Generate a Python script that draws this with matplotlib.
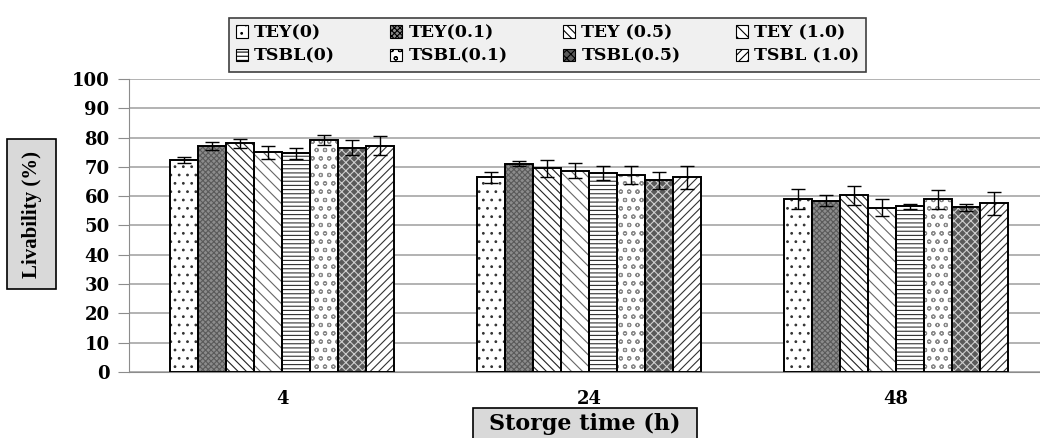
import numpy as np
import matplotlib.pyplot as plt
from matplotlib.patches import Rectangle

plt.rcParams['font.family'] = ['DejaVu Serif']
plt.rcParams['font.weight'] = 'bold'
plt.rcParams['hatch.linewidth'] = 0.8

categories = ['4', '24', '48']
series = ['TEY(0)', 'TEY(0.1)', 'TEY (0.5)', 'TEY (1.0)',
          'TSBL(0)', 'TSBL(0.1)', 'TSBL(0.5)', 'TSBL (1.0)']

# livability (%) per series, one value per storage time (4, 24, 48 h)
tey_0 = [72.4, 66.4, 59.0]
tey_01 = [77.1, 71.1, 58.4]
tey_05 = [78.0, 69.5, 60.3]
tey_10 = [75.0, 68.7, 56.1]
tsbl_0 = [74.6, 67.9, 56.5]
tsbl_01 = [79.2, 67.2, 59.0]
tsbl_05 = [76.5, 65.4, 56.3]
tsbl_10 = [77.3, 66.4, 57.6]

tey_0_err = [1.1, 1.9, 3.5]
tey_01_err = [1.3, 0.9, 1.9]
tey_05_err = [1.6, 2.8, 3.2]
tey_10_err = [2.2, 2.6, 2.8]
tsbl_0_err = [1.9, 2.5, 0.7]
tsbl_01_err = [1.8, 3.2, 3.2]
tsbl_05_err = [2.6, 3.0, 1.2]
tsbl_10_err = [3.1, 3.9, 3.9]

values = [tey_0, tey_01, tey_05, tey_10, tsbl_0, tsbl_01, tsbl_05, tsbl_10]
errors = [tey_0_err, tey_01_err, tey_05_err, tey_10_err,
          tsbl_0_err, tsbl_01_err, tsbl_05_err, tsbl_10_err]

# (face colour, hatch, hatch colour)
styles = [
    ('white', '..', '#333333'),
    ('#8c8c8c', 'xxxxxx', '#5a5a5a'),
    ('white', '\\\\\\\\', '#222222'),
    ('white', '\\\\\\', '#666666'),
    ('white', '----', '#333333'),
    ('white', 'oo', '#8a8a8a'),
    ('#5a5a5a', 'xxxx', '#cfcfcf'),
    ('white', '////', '#333333'),
]

W, H = 1040, 438
fig = plt.figure(figsize=(W / 100, H / 100), dpi=100)
ax = fig.add_axes([129 / W, 66 / H, 920.5 / W, 293 / H])


def px_box(x0, y0, x1, y1):
    # grey label box given in pixel coords measured from the top-left
    fig.patches.append(Rectangle((x0 / W, 1 - y1 / H), (x1 - x0) / W,
                                 (y1 - y0) / H, transform=fig.transFigure,
                                 facecolor='#d9d9d9', edgecolor='black',
                                 linewidth=1.2, zorder=0))


x = np.arange(len(categories))
width = 0.0912
handles = []
for i, (vals, errs, (fc, hatch, hc)) in enumerate(zip(values, errors, styles)):
    pos = x + (i - 3.5) * width
    # hatch fill first, then a plain black outline on top
    ax.bar(pos, vals, width, color=fc, hatch=hatch, edgecolor=hc,
           linewidth=0, zorder=2)
    ax.bar(pos, vals, width, facecolor='none', edgecolor='black',
           linewidth=1.4, zorder=3)
    ax.errorbar(pos, vals, yerr=errs, fmt='none', ecolor='black',
                elinewidth=1, capsize=5, capthick=1, zorder=4)
    h = Rectangle((0, 0), 1, 1, facecolor=fc, hatch=hatch,
                  edgecolor='black', linewidth=0.8)
    handles.append(h)

ax.set_ylim(0, 100)
ax.set_xlim(-0.5, 2.5)
ax.set_yticks(np.arange(0, 101, 10))
ax.set_xticks(x)
ax.set_xticklabels(categories)
ax.yaxis.grid(True, color='#a6a6a6', linewidth=1.2)
ax.set_axisbelow(True)
for s in ['top', 'right']:
    ax.spines[s].set_visible(False)
ax.spines['left'].set_color('#8c8c8c')
ax.spines['bottom'].set_color('#8c8c8c')
ax.tick_params(axis='y', length=8, color='#8c8c8c', labelsize=13, pad=6)
ax.tick_params(axis='x', length=0, labelsize=13, pad=13)
for lbl in ax.get_xticklabels() + ax.get_yticklabels():
    lbl.set_fontweight('bold')

px_box(7, 139, 56, 289)
fig.text(31.5 / W, 1 - 214 / H, 'Livability (%)', rotation=90,
         ha='center', va='center', fontsize=15, fontweight='bold',
         family='Liberation Serif')
px_box(473, 408, 697, 442)
fig.text(585 / W, 1 - 424 / H, 'Storge time (h)',
         ha='center', va='center', fontsize=16, fontweight='bold')

# legend filled row by row: TEY on top, TSBL below
order = [0, 4, 1, 5, 2, 6, 3, 7]
leg = fig.legend([handles[k] for k in order], [series[k] for k in order],
                 ncol=4, loc='upper left',
                 bbox_to_anchor=(220 / W, 1 - 9 / H, 655 / W, 0.0),
                 mode='expand', handlelength=0.7,
                 handleheight=0.7, handletextpad=0.35, columnspacing=1.0,
                 labelspacing=0.35, borderpad=0.4, fancybox=False,
                 framealpha=1, prop={'weight': 'bold', 'size': 12.5})
leg.get_frame().set_facecolor('#f0f0f0')
leg.get_frame().set_edgecolor('#404040')
leg.get_frame().set_linewidth(1.2)

plt.savefig('out.png', dpi=100)
